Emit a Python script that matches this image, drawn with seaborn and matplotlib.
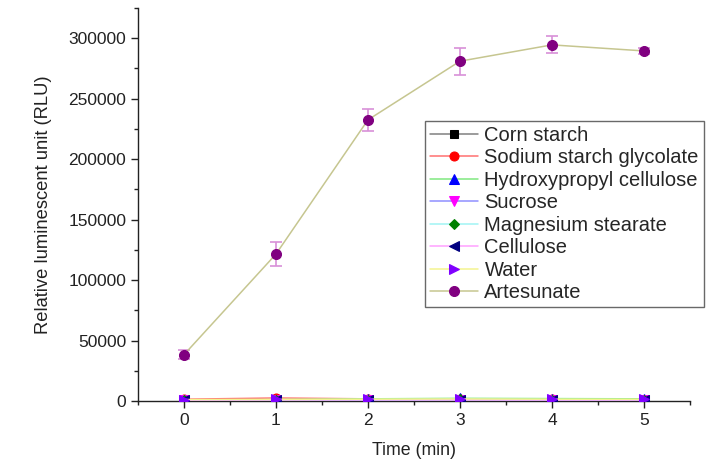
import pandas as pd
import matplotlib
matplotlib.use('Agg')
import matplotlib.pyplot as plt
from matplotlib.ticker import MultipleLocator
import seaborn as sns

# --- data ---
time_min = [0, 1, 2, 3, 4, 5]
corn_starch = [900, 1000, 1100, 1200, 1100, 1000]
sodium_starch_glycolate = [1500, 2500, 1800, 1400, 1300, 1200]
hydroxypropyl_cellulose = [1000, 1100, 1800, 2200, 2000, 1800]
sucrose = [900, 1000, 1000, 1100, 1000, 1000]
magnesium_stearate = [1000, 1100, 1200, 1300, 1200, 1100]
cellulose = [800, 900, 1000, 1000, 900, 900]
water = [1200, 1300, 1500, 1700, 1500, 1400]
artesunate = [38300, 121500, 232500, 281000, 294500, 289500]
artesunate_err = [3500, 10000, 9000, 11000, 7000, 2500]

series_names = ["Corn starch", "Sodium starch glycolate", "Hydroxypropyl cellulose",
                "Sucrose", "Magnesium stearate", "Cellulose", "Water", "Artesunate"]
series_vals = [corn_starch, sodium_starch_glycolate, hydroxypropyl_cellulose, sucrose,
               magnesium_stearate, cellulose, water, artesunate]

# Origin-like styling: line colour, marker, marker colour
line_colors = ['#808080', '#ff7070', '#80e880', '#9090ff', '#a0f4f4', '#ffa0ff', '#f4f490', '#c6c690']
markers = ['s', 'o', '^', 'v', 'D', '<', '>', 'o']
marker_colors = ['#000000', '#ff0000', '#0000ff', '#ff00ff', '#008000', '#000080', '#8000ff', '#800080']
marker_sizes = [5.5, 6.5, 6.5, 6.5, 5.5, 6.5, 6.5, 7.2]

sns.set_style('ticks')
plt.rcParams['font.family'] = ['Liberation Sans', 'DejaVu Sans']

fig = plt.figure(figsize=(7.12, 4.65), dpi=100)
ax = fig.add_axes([0.1938, 0.1376, 0.7752, 0.8452])

for name, vals, lc, m, mc, ms in zip(series_names, series_vals, line_colors,
                                      markers, marker_colors, marker_sizes):
    df = pd.DataFrame({'t': time_min, 'v': vals})
    sns.lineplot(data=df, x='t', y='v', ax=ax, color=lc, lw=1.1, marker=m, markersize=ms,
                 markerfacecolor=mc, markeredgecolor=mc, label=name, zorder=3)

# error bars on the artesunate curve
ax.errorbar(time_min, artesunate, yerr=artesunate_err, fmt='none', ecolor='#d890d8',
            elinewidth=1.2, capsize=4, capthick=1.2, zorder=2)

ax.set_xlim(-0.5, 5.5)
ax.set_ylim(0, 325000)
ax.xaxis.set_major_locator(MultipleLocator(1))
ax.xaxis.set_minor_locator(MultipleLocator(0.5))
ax.yaxis.set_major_locator(MultipleLocator(50000))
ax.yaxis.set_minor_locator(MultipleLocator(25000))
ax.tick_params(which='major', length=5, width=1, labelsize=12.5, colors='#222222', labelcolor='#222222')
ax.tick_params(which='minor', length=3, width=1, colors='#222222')
sns.despine(ax=ax)
for s in ['left', 'bottom']:
    ax.spines[s].set_color('#222222')
    ax.spines[s].set_linewidth(1)

ax.set_xlabel('Time (min)', fontsize=12.8, color='#222222', labelpad=10)
ax.set_ylabel('Relative luminescent unit (RLU)', fontsize=13.2, color='#222222', labelpad=12)

leg = ax.legend(loc='upper left', bbox_to_anchor=(425 / 712, 1 - 121 / 465),
                bbox_transform=fig.transFigure, fontsize=14.5, frameon=True, fancybox=False,
                handlelength=2.4, handletextpad=0.3, labelspacing=0.17, borderpad=0.25,
                borderaxespad=0)
leg.get_frame().set_edgecolor('#444444')
leg.get_frame().set_linewidth(1)

fig.savefig('out.png', dpi=100)
